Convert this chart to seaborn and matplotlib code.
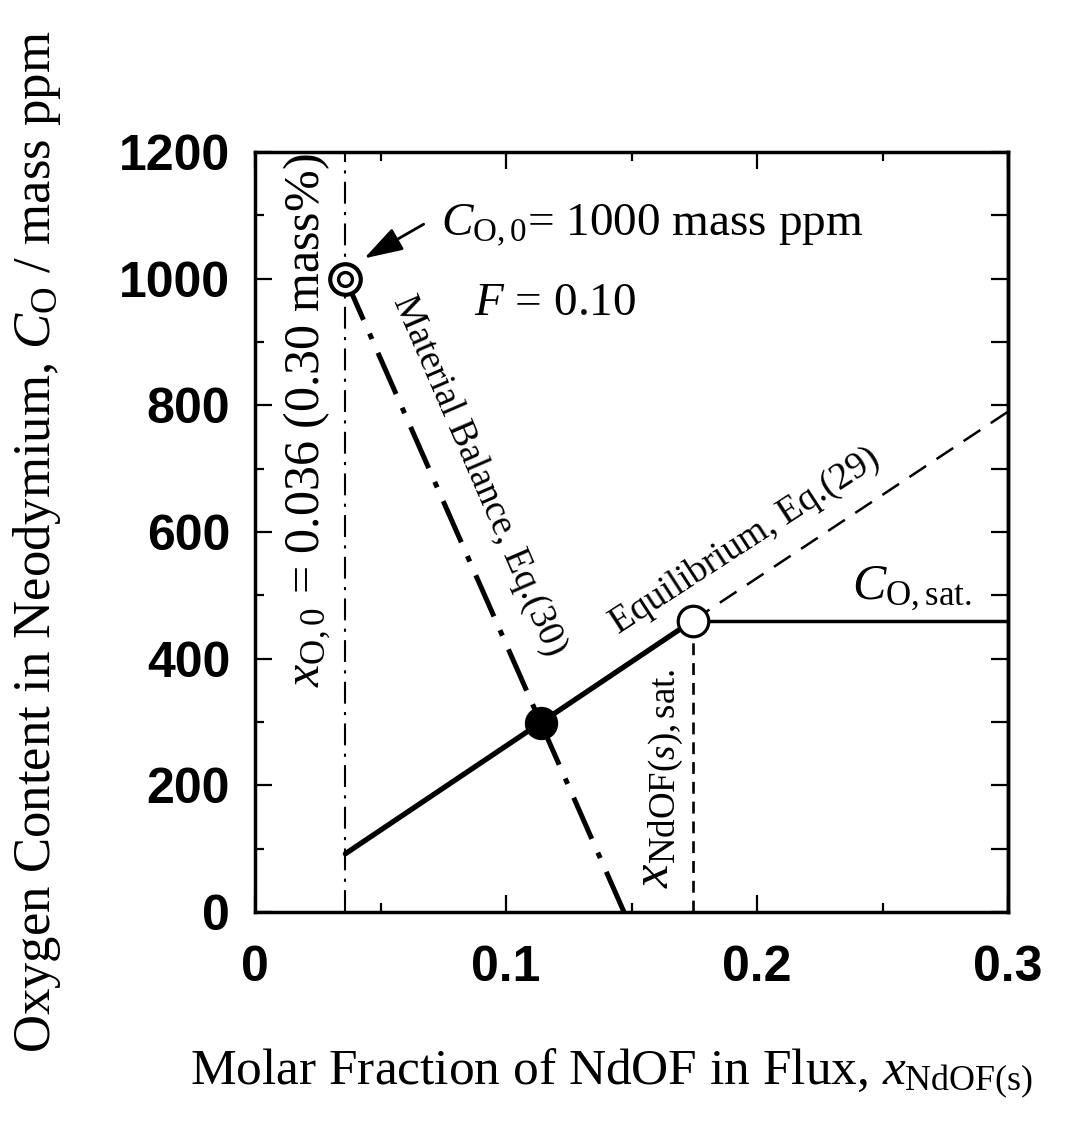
import matplotlib
matplotlib.use("Agg")
import matplotlib.pyplot as plt
import seaborn as sns

# ---- data -------------------------------------------------------------
x_init = 0.036          # initial molar fraction x_O,0
c_init = 1000           # initial oxygen content C_O,0 (mass ppm)

# equilibrium curve, Eq.(29): solid below saturation, dashed beyond it
eq_x = [0.036, 0.1744]
eq_y = [92, 460]
eq_ext_x = [0.1744, 0.3]
eq_ext_y = [460, 790]

# material balance, Eq.(30)
mb_x = [0.036, 0.147]
mb_y = [1000, 0]

# saturation level C_O,sat.
sat_x = [0.1744, 0.3]
sat_y = [460, 460]

# operating point (intersection of the two relations)
op_x = [0.1138]
op_y = [299]

# saturation point
satpt_x = [0.1744]
satpt_y = [460]

x_ticks = [0, 0.1, 0.2, 0.3]
x_tick_labels = ["0", "0.1", "0.2", "0.3"]
y_ticks = [0, 200, 400, 600, 800, 1000, 1200]

# ---- style ------------------------------------------------------------
sns.set_theme(style="ticks")
plt.rcParams["font.family"] = ["Liberation Serif", "DejaVu Serif"]
plt.rcParams["mathtext.fontset"] = "custom"
plt.rcParams["mathtext.rm"] = "Liberation Serif"
plt.rcParams["mathtext.it"] = "Liberation Serif:italic"
plt.rcParams["mathtext.bf"] = "Liberation Serif:bold"
for key in ["text.color", "axes.labelcolor", "xtick.color", "ytick.color", "axes.edgecolor"]:
    plt.rcParams[key] = "black"

fig = plt.figure(figsize=(10.67, 11.24), dpi=100)
fig.patch.set_facecolor("white")
ax = fig.add_axes([255 / 1067, 1 - 912 / 1124, (1008 - 255) / 1067, (912 - 152) / 1124])
ax.set_facecolor("white")

# vertical reference line at x_O,0
ax.axvline(x_init, color="black", linewidth=1.5, linestyle=(0, (10.5, 4, 1.5, 4)), zorder=2)

# material balance line
sns.lineplot(x=mb_x, y=mb_y, ax=ax, color="black", linewidth=3.6,
             linestyle=(0, (9, 3, 1.2, 3)), sort=False, estimator=None, zorder=3)

# equilibrium line (solid) and its extension (dashed)
sns.lineplot(x=eq_x, y=eq_y, ax=ax, color="black", linewidth=3.8,
             sort=False, estimator=None, zorder=3)
sns.lineplot(x=eq_ext_x, y=eq_ext_y, ax=ax, color="black", linewidth=1.8,
             linestyle=(0, (8, 5)), sort=False, estimator=None, zorder=3)

# saturation plateau
sns.lineplot(x=sat_x, y=sat_y, ax=ax, color="black", linewidth=2.5,
             sort=False, estimator=None, zorder=3)

# vertical dashed drop from the saturation point
ax.plot([satpt_x[0], satpt_x[0]], [0, satpt_y[0]], color="black", linewidth=1.9,
        linestyle=(0, (4.5, 3)), zorder=2)

# markers
ax.plot([x_init], [c_init], "o", ms=22, mfc="white", mec="black", mew=3.0, zorder=5)
ax.plot([x_init], [c_init], "o", ms=10, mfc="white", mec="black", mew=2.4, zorder=6)
ax.plot(satpt_x, satpt_y, "o", ms=22, mfc="white", mec="black", mew=2.3, zorder=5)
ax.plot(op_x, op_y, "o", ms=23, mfc="black", mec="black", mew=1, zorder=5)

# ---- axes -------------------------------------------------------------
ax.set_xlim(0, 0.3)
ax.set_ylim(0, 1200)
ax.set_xticks(x_ticks)
ax.set_xticklabels(x_tick_labels)
ax.set_xticks([0.05, 0.15, 0.25], minor=True)
ax.set_yticks(y_ticks)
ax.set_yticks([100, 300, 500, 700, 900, 1100], minor=True)

for s in ax.spines.values():
    s.set_linewidth(2.5)
    s.set_color("black")
    s.set_visible(True)

ax.tick_params(axis="both", which="major", direction="in", length=12, width=1.6,
               top=True, right=False, colors="black")
ax.tick_params(axis="both", which="minor", direction="in", length=6.5, width=1.6,
               top=True, right=False, colors="black")
ax.tick_params(axis="x", which="major", pad=24)
ax.tick_params(axis="y", which="major", pad=18)

for lab in ax.get_xticklabels() + ax.get_yticklabels():
    lab.set_fontfamily("Liberation Sans")
    lab.set_fontweight("bold")
    lab.set_fontsize(36)

# right-hand ticks every 100, all full length
sec = ax.secondary_yaxis("right")
sec.set_yticks(list(range(0, 1201, 100)))
sec.tick_params(direction="in", length=12, width=1.6, labelright=False, colors="black")
sec.spines["right"].set_linewidth(2.5)

ax.set_xlabel(r"Molar Fraction of NdOF in Flux, $x_{\mathrm{NdOF(s)}}$",
              fontsize=37, labelpad=40)
ax.xaxis.label.set_x(0.474)
ax.set_ylabel(r"Oxygen Content in Neodymium, $C_{\mathrm{O}}$ / mass ppm",
              fontsize=38, labelpad=40)
ax.yaxis.label.set_y(0.487)

# ---- annotations ------------------------------------------------------
ax.text(0.074, 1069, r"$C_{\mathrm{O,0}}$= 1000 mass ppm", fontsize=34,
        ha="left", va="baseline")
ax.annotate("", xy=(0.0435, 1032), xytext=(0.0672, 1086),
            arrowprops=dict(arrowstyle="-|>,head_length=0.7,head_width=0.22",
                            color="black", lw=2, shrinkA=0, shrinkB=0,
                            mutation_scale=34))
ax.text(0.0872, 942, r"$F$ = 0.10", fontsize=34, ha="left", va="baseline")

ax.text(0.0208, 776, r"$x_{\mathrm{O,0}}$ = 0.036 (0.30 mass%)", fontsize=36,
        rotation=90, ha="center", va="center", rotation_mode="anchor")
ax.text(0.0892, 689, "Material Balance, Eq.(30)", fontsize=27,
        rotation=-66.6, ha="center", va="center", rotation_mode="anchor")
ax.text(0.195, 586, "Equilibrium, Eq.(29)", fontsize=27,
        rotation=33, ha="center", va="center", rotation_mode="anchor")
ax.text(0.238, 495, r"$C_{\mathrm{O,sat.}}$", fontsize=36, ha="left", va="baseline")
ax.text(0.162, 212, r"$x_{\mathrm{NdOF}(s)\mathrm{,sat.}}$", fontsize=38,
        rotation=90, ha="center", va="center", rotation_mode="anchor")

fig.savefig("out.png", dpi=100, facecolor="white")
